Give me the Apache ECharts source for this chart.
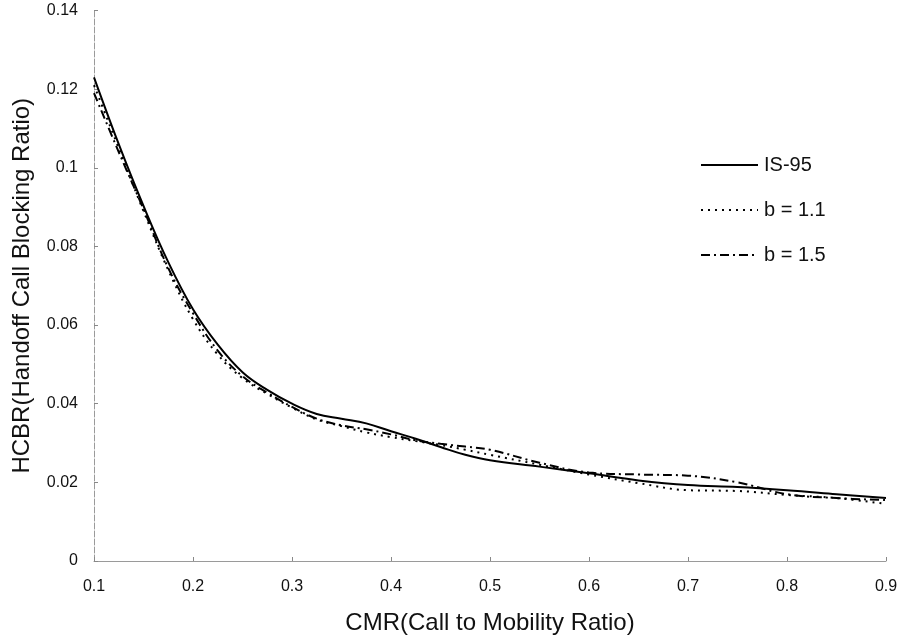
<!DOCTYPE html>
<html>
<head>
<meta charset="utf-8">
<title>HCBR vs CMR</title>
<script src="https://cdn.jsdelivr.net/npm/echarts@6/dist/echarts.min.js"></script>
<style>
  html, body { margin: 0; padding: 0; background: #fff; }
  #chart { width: 902px; height: 642px; }
</style>
</head>
<body>
<div id="chart"></div>
<script>
// CMR (call to mobility ratio) sample points
const cmr = [0.1, 0.125, 0.15, 0.175, 0.2, 0.225, 0.25, 0.275, 0.3, 0.325, 0.35, 0.375,
             0.4, 0.425, 0.45, 0.475, 0.5, 0.55, 0.6, 0.65, 0.7, 0.75, 0.8, 0.85, 0.9];

// Handoff call blocking ratio for each scheme
const hcbrIS95 = [0.123, 0.106, 0.0903, 0.076, 0.064, 0.055, 0.048, 0.0435, 0.040, 0.0374, 0.0362, 0.0350,
                  0.0330, 0.0311, 0.0290, 0.0270, 0.0256, 0.0240, 0.0223, 0.0205, 0.0193, 0.0188, 0.0180, 0.0170, 0.0160];
const hcbrB11  = [0.121, 0.105, 0.089, 0.074, 0.0615, 0.0525, 0.0465, 0.0425, 0.0390, 0.0360, 0.0343, 0.0327,
                  0.0315, 0.0305, 0.0295, 0.0283, 0.0270, 0.0245, 0.0220, 0.0198, 0.0180, 0.0178, 0.0168, 0.0160, 0.0145];
const hcbrB15  = [0.119, 0.104, 0.0895, 0.0745, 0.063, 0.0535, 0.047, 0.0428, 0.0392, 0.0362, 0.0345, 0.0335,
                  0.0322, 0.0307, 0.0298, 0.0291, 0.0283, 0.0250, 0.0225, 0.0220, 0.0217, 0.0200, 0.0170, 0.0160, 0.0155];

const seriesNames = ['IS-95', 'b = 1.1', 'b = 1.5'];
const xTicks = [0.1, 0.2, 0.3, 0.4, 0.5, 0.6, 0.7, 0.8, 0.9];
const yTicks = [0, 0.02, 0.04, 0.06, 0.08, 0.1, 0.12, 0.14];

const pairs = ys => cmr.map((x, i) => [x, ys[i]]);
const FONT = '"Liberation Sans", Arial, sans-serif';

const chart = echarts.init(document.getElementById('chart'), null, { renderer: 'canvas' });

chart.setOption({
  backgroundColor: '#ffffff',
  animation: false,
  grid: { left: 94, right: 16, top: 10.5, bottom: 81, containLabel: false },
  legend: {
    orient: 'vertical',
    left: 695,
    top: 150,
    itemWidth: 57,
    itemHeight: 20,
    itemGap: 25,
    itemStyle: { opacity: 0 },
    textStyle: { fontFamily: FONT, fontSize: 20, color: '#111', padding: [0, 0, 0, 1] },
    data: seriesNames
  },
  xAxis: {
    type: 'value',
    min: 0.1,
    max: 0.9,
    interval: 0.1,
    name: 'CMR(Call to Mobility Ratio)',
    nameLocation: 'middle',
    nameGap: 50,
    nameTextStyle: { fontFamily: FONT, fontSize: 24, color: '#111' },
    axisLine: { show: true, lineStyle: { color: '#9a9a9a', width: 1 } },
    axisTick: { show: true, inside: true, length: 4, lineStyle: { color: '#888' } },
    axisLabel: {
      fontFamily: FONT, fontSize: 16, color: '#111', margin: 18,
      formatter: v => xTicks.includes(Math.round(v * 10) / 10) ? String(Math.round(v * 10) / 10) : ''
    },
    splitLine: { show: false }
  },
  yAxis: {
    type: 'value',
    min: 0,
    max: 0.14,
    interval: 0.02,
    name: 'HCBR(Handoff Call Blocking Ratio)',
    nameLocation: 'middle',
    nameGap: 60,
    nameTextStyle: { fontFamily: FONT, fontSize: 24, color: '#111' },
    axisLine: { show: true, lineStyle: { color: '#9a9a9a', width: 1, type: [6, 2] } },
    axisTick: { show: true, inside: true, length: 4, lineStyle: { color: '#888' } },
    axisLabel: {
      fontFamily: FONT, fontSize: 16, color: '#111', margin: 16,
      formatter: v => {
        const r = Math.round(v * 100) / 100;
        return yTicks.includes(r) ? String(r) : '';
      }
    },
    splitLine: { show: false }
  },
  series: [
    {
      name: seriesNames[0], type: 'line', data: pairs(hcbrIS95), smooth: 0.4,
      showSymbol: false, symbol: 'none',
      lineStyle: { color: '#000', width: 2, type: 'solid' },
      itemStyle: { color: '#000' }
    },
    {
      name: seriesNames[1], type: 'line', data: pairs(hcbrB11), smooth: 0.4,
      showSymbol: false, symbol: 'none',
      lineStyle: { color: '#000', width: 2, type: [2, 5] },
      itemStyle: { color: '#000' }
    },
    {
      name: seriesNames[2], type: 'line', data: pairs(hcbrB15), smooth: 0.4,
      showSymbol: false, symbol: 'none',
      lineStyle: { color: '#000', width: 2, type: [9, 4, 2, 4] },
      itemStyle: { color: '#000' }
    }
  ]
});
</script>
</body>
</html>
